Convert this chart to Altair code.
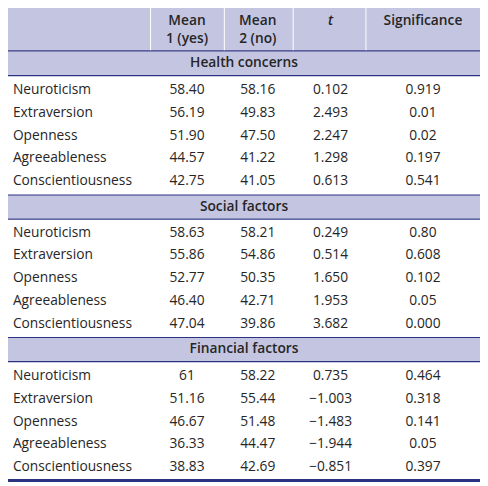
import altair as alt
import pandas as pd

# ---------------- data ----------------
sections = ["Health concerns", "Social factors", "Financial factors"]
traits = ["Neuroticism", "Extraversion", "Openness", "Agreeableness", "Conscientiousness"]
mean1 = [["58.40", "56.19", "51.90", "44.57", "42.75"],
         ["58.63", "55.86", "52.77", "46.40", "47.04"],
         ["61", "51.16", "46.67", "36.33", "38.83"]]
mean2 = [["58.16", "49.83", "47.50", "41.22", "41.05"],
         ["58.21", "54.86", "50.35", "42.71", "39.86"],
         ["58.22", "55.44", "51.48", "44.47", "42.69"]]
t_val = [["0.102", "2.493", "2.247", "1.298", "0.613"],
         ["0.249", "0.514", "1.650", "1.953", "3.682"],
         ["0.735", "\u22121.003", "\u22121.483", "\u22121.944", "\u22120.851"]]
signif = [["0.919", "0.01", "0.02", "0.197", "0.541"],
          ["0.80", "0.608", "0.102", "0.05", "0.000"],
          ["0.464", "0.318", "0.141", "0.05", "0.397"]]
header_top = ["Mean", "Mean", "t", "Significance"]
header_bottom = ["1 (yes)", "2 (no)", "", ""]

# ---------------- layout (reference pixel grid) ----------------
W, H = 488, 486
M = 8  # page margin
col_x = [190, 262, 336, 430]
label_x = 13
sep_x = [153, 228, 298, 372]
band_top = [48, 194, 339]
band_h = 24
row0 = [87.5, 232.5, 378.5]
row_step = 23.1

BAND = "#c4c5e1"
NAVY = "#2c3282"
TEXT = "#262626"
FONT = "Open Sans"
FS = 14

xs = alt.Scale(domain=[M, W], range=[0, W - M], zero=False, nice=False)
ys = alt.Scale(domain=[M, H], range=[0, H - M], zero=False, nice=False)

# rectangles: bands, lines, separators
rects = [dict(x0=0, x1=W, y0=0, y1=47, c="band")]
for b in band_top:
    rects.append(dict(x0=0, x1=W, y0=b, y1=b + band_h, c="band"))
lines = [(0, 2), (47, 48.3), (72, 73.3), (193.6, 194.6), (218, 219.3),
         (338.6, 339.6), (363, 364.3), (483, 486)]
for a, b in lines:
    rects.append(dict(x0=0, x1=W, y0=a, y1=b, c="navy"))
for sx in sep_x:
    rects.append(dict(x0=sx - 0.5, x1=sx + 0.5, y0=2, y1=47, c="white"))
rect_df = pd.DataFrame(rects)

rect_layer = alt.Chart(rect_df).mark_rect(strokeWidth=0).encode(
    x=alt.X("x0:Q", scale=xs, axis=None),
    x2="x1:Q",
    y=alt.Y("y0:Q", scale=ys, axis=None),
    y2="y1:Q",
    color=alt.Color("c:N", scale=alt.Scale(domain=["band", "navy", "white"],
                                            range=[BAND, NAVY, "#ffffff"]), legend=None),
)

# body cells
labels, cells = [], []
for s in range(len(sections)):
    for i, tr in enumerate(traits):
        y = row0[s] + row_step * i
        labels.append(dict(x=label_x, y=y, txt=tr))
        for j, arr in enumerate([mean1, mean2, t_val, signif]):
            cells.append(dict(x=col_x[j], y=y, txt=arr[s][i]))
label_df = pd.DataFrame(labels)
cell_df = pd.DataFrame(cells)

enc = dict(
    x=alt.X("x:Q", scale=xs, axis=None),
    y=alt.Y("y:Q", scale=ys, axis=None),
    text="txt:N",
)

label_layer = alt.Chart(label_df).mark_text(
    align="left", baseline="middle", font=FONT, fontSize=FS, color=TEXT
).encode(**enc)

cell_layer = alt.Chart(cell_df).mark_text(
    align="center", baseline="middle", font=FONT, fontSize=FS, color=TEXT
).encode(**enc)

# headers
head = []
for j in range(4):
    if header_top[j] != "t":
        head.append(dict(x=col_x[j], y=17, txt=header_top[j]))
    if header_bottom[j]:
        head.append(dict(x=col_x[j], y=36, txt=header_bottom[j]))
for s, name in enumerate(sections):
    head.append(dict(x=248, y=band_top[s] + band_h / 2, txt=name))
head_df = pd.DataFrame(head)
head_layer = alt.Chart(head_df).mark_text(
    align="center", baseline="middle", font=FONT, fontSize=FS, fontWeight=600, color=TEXT
).encode(**enc)

t_df = pd.DataFrame([dict(x=col_x[2], y=17, txt="t")])
t_layer = alt.Chart(t_df).mark_text(
    align="center", baseline="middle", font=FONT, fontSize=FS, fontWeight=600,
    fontStyle="italic", color=TEXT
).encode(**enc)

chart = alt.layer(rect_layer, label_layer, cell_layer, head_layer, t_layer).properties(
    width=W - M, height=H - M, padding=0, autosize=alt.AutoSizeParams(type="none")
).configure_view(strokeWidth=0)

chart.save("out.html", embed_options={"renderer": "svg", "actions": False})
